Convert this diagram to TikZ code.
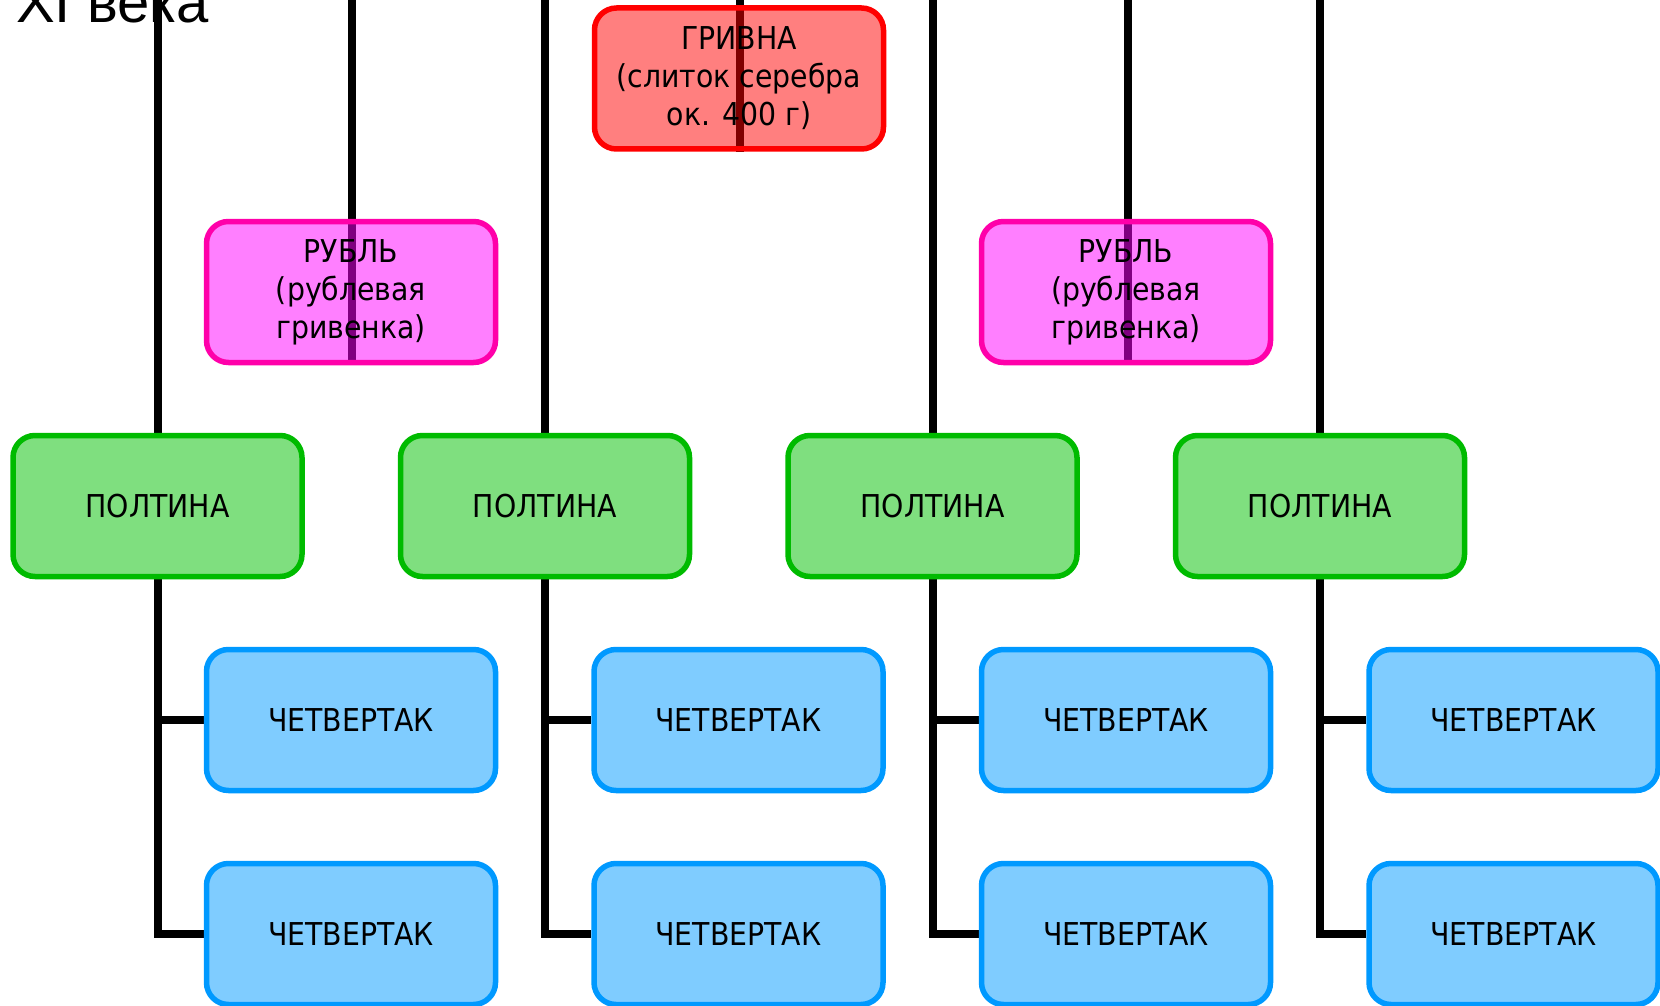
\documentclass[tikz,border=0pt]{standalone}
\usepackage{fontspec}
\setmainfont{Liberation Sans}
\newfontfamily\boxfont{DejaVu Sans}[FakeStretch=0.9]
\usetikzlibrary{backgrounds}
\definecolor{grivnared}{RGB}{255,0,0}
\definecolor{rublpink}{RGB}{255,0,170}
\definecolor{rublfill}{RGB}{255,0,255}
\definecolor{poltinagreen}{RGB}{0,187,0}
\definecolor{poltinafill}{RGB}{0,192,0}
\definecolor{chetblue}{RGB}{0,153,255}
\tikzset{
  coin/.style={draw, rounded corners=22pt, line width=5.5pt, minimum width=289pt, minimum height=141pt,
    fill opacity=0.5, text opacity=1, align=center, font=\boxfont\fontsize{31.5}{38}\selectfont},
  grivnabox/.style={coin, draw=grivnared, fill=grivnared},
  rublbox/.style={coin, draw=rublpink, fill=rublfill},
  poltinabox/.style={coin, draw=poltinagreen, fill=poltinafill},
  chetbox/.style={coin, draw=chetblue, fill=chetblue},
  link/.style={line width=8pt, draw=black},
  eratitle/.style={font=\fontsize{58}{62}\selectfont, inner sep=0pt}
}
\begin{document}
\begin{tikzpicture}[x=1pt,y=-1pt]
\useasboundingbox (0,0) rectangle (1660,1006);
\node[eratitle, anchor=base west] (era) at (16,23) {XI века};
\node[grivnabox] (grivna) at (739,78.5) {ГРИВНА\\(слиток серебра\\ок. 400 г)};
\node[rublbox] (rubl1) at (351,292) {РУБЛЬ\\(рублевая\\гривенка)};
\node[rublbox] (rubl2) at (1126,292) {РУБЛЬ\\(рублевая\\гривенка)};
\node[poltinabox] (poltina1) at (157.5,506) {ПОЛТИНА};
\node[poltinabox] (poltina2) at (545,506) {ПОЛТИНА};
\node[poltinabox] (poltina3) at (932.5,506) {ПОЛТИНА};
\node[poltinabox] (poltina4) at (1320,506) {ПОЛТИНА};
\node[chetbox] (chet1a) at (351,720) {ЧЕТВЕРТАК};
\node[chetbox] (chet1b) at (351,934) {ЧЕТВЕРТАК};
\node[chetbox] (chet2a) at (738.5,720) {ЧЕТВЕРТАК};
\node[chetbox] (chet2b) at (738.5,934) {ЧЕТВЕРТАК};
\node[chetbox] (chet3a) at (1126,720) {ЧЕТВЕРТАК};
\node[chetbox] (chet3b) at (1126,934) {ЧЕТВЕРТАК};
\node[chetbox] (chet4a) at (1513.5,720) {ЧЕТВЕРТАК};
\node[chetbox] (chet4b) at (1513.5,934) {ЧЕТВЕРТАК};
\coordinate (top1) at (157.5,-10);
\coordinate (top2) at (352,-10);
\coordinate (top3) at (545,-10);
\coordinate (top4) at (740,-10);
\coordinate (top5) at (932.5,-10);
\coordinate (top6) at (1127.5,-10);
\coordinate (top7) at (1320,-10);
\begin{scope}[on background layer]
\draw[link] (top1) -- (top1 |- poltina1.north);
\draw[link] (top2) -- (top2 |- rubl1.south);
\draw[link] (top3) -- (top3 |- poltina2.north);
\draw[link] (top4) -- (top4 |- grivna.south);
\draw[link] (top5) -- (top5 |- poltina3.north);
\draw[link] (top6) -- (top6 |- rubl2.south);
\draw[link] (top7) -- (top7 |- poltina4.north);
\draw[link] (poltina1) |- (chet1b);
\draw[link] (poltina1 |- chet1a) -- (chet1a);
\draw[link] (poltina2) |- (chet2b);
\draw[link] (poltina2 |- chet2a) -- (chet2a);
\draw[link] (poltina3) |- (chet3b);
\draw[link] (poltina3 |- chet3a) -- (chet3a);
\draw[link] (poltina4) |- (chet4b);
\draw[link] (poltina4 |- chet4a) -- (chet4a);
\end{scope}
\end{tikzpicture}
\end{document}
